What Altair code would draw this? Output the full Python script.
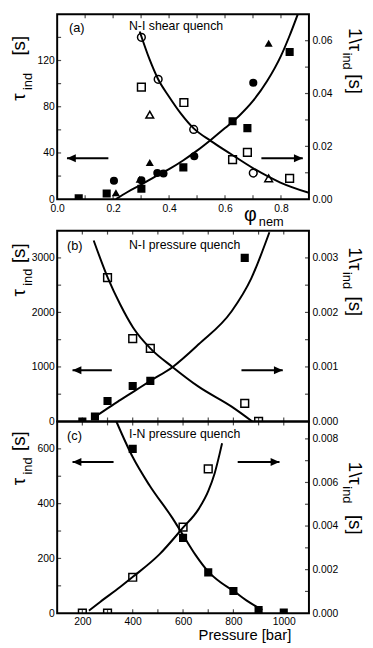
import altair as alt
import pandas as pd

FONT = "Liberation Sans"
W = 256
HA, HB, HC = 188, 194, 195

# ---------------- Panel (a): N-I shear quench (x = phi_nem) ----------------
a_fill_sq_x = [0.077, 0.177, 0.301, 0.451, 0.627, 0.680, 0.831]
a_fill_sq_y = [0.8, 4.9, 9.0, 27.5, 67.4, 61.5, 127.4]
a_fill_ci_x = [0.203, 0.301, 0.358, 0.380, 0.490, 0.701]
a_fill_ci_y = [15.9, 16.4, 22.7, 22.2, 37.2, 100.8]
a_fill_tr_x = [0.210, 0.295, 0.331, 0.756]
a_fill_tr_y = [5.5, 17.3, 31.8, 135.0]
a_open_sq_x = [0.301, 0.453, 0.627, 0.680, 0.831]
a_open_sq_y = [0.0424, 0.0366, 0.0150, 0.0177, 0.0079]
a_open_ci_x = [0.301, 0.361, 0.488, 0.701]
a_open_ci_y = [0.0613, 0.0454, 0.0264, 0.0099]
a_open_tr_x = [0.331, 0.756]
a_open_tr_y = [0.0320, 0.0079]
a_tau_fit_x = [0.21, 0.25, 0.30, 0.35, 0.40, 0.45, 0.50, 0.55, 0.60, 0.65, 0.70, 0.75, 0.80, 0.83, 0.86]
a_tau_fit_y = [0, 6, 12.5, 19.5, 26, 33.5, 42, 51.5, 61.5, 72, 85, 102, 124, 141, 160]
a_inv_fit_x = [0.295, 0.33, 0.361, 0.40, 0.443, 0.488, 0.55, 0.621, 0.701, 0.798, 0.90]
a_inv_fit_y = [0.0635, 0.053, 0.0454, 0.0388, 0.0323, 0.0268, 0.0220, 0.0171, 0.0117, 0.0063, 0.0024]
a_arrow_left = [0.035, 0.183]
a_arrow_right = [0.730, 0.878]
a_arrow_y = 35.5
a_x_labels = [0, 0.2, 0.4, 0.6, 0.8]
a_x_ticks = [0.1, 0.2, 0.3, 0.4, 0.5, 0.6, 0.7, 0.8]
a_l_labels = [0, 40, 80, 120]
a_l_ticks = [20, 40, 60, 80, 100, 120, 140]
a_r_labels = [0, 0.02, 0.04, 0.06]
a_r_ticks = [0.01, 0.02, 0.03, 0.04, 0.05, 0.06]

# ---------------- Panel (b): N-I pressure quench (x = pressure) ----------------
b_fill_x = [200, 250, 300, 400, 470, 845]
b_fill_y = [0, 90, 375, 650, 745, 3000]
b_open_x = [300, 400, 470, 845, 900]
b_open_y = [0.00264, 0.00152, 0.00134, 0.00033, 0.0]
b_tau_fit_x = [249, 272, 300, 350, 402, 470, 559, 663, 793, 871, 943]
b_tau_fit_y = [80, 152, 240, 390, 543, 745, 1000, 1419, 2022, 2625, 3471]
b_inv_fit_x = [245, 302, 350, 402, 470, 559, 663, 793, 875]
b_inv_fit_y = [0.00332, 0.002625, 0.00215, 0.00172, 0.00134, 0.000996, 0.000634, 0.000272, 0.0]
b_arrow_left = [161, 317]
b_arrow_right = [832, 996]
b_arrow_y = 940
b_l_labels = [0, 1000, 2000, 3000]
b_l_ticks = [500, 1000, 1500, 2000, 2500, 3000]
b_r_labels = [0, 0.001, 0.002, 0.003]
b_r_ticks = [0.0005, 0.001, 0.0015, 0.002, 0.0025, 0.003]

# ---------------- Panel (c): I-N pressure quench ----------------
c_fill_x = [400, 600, 700, 800, 900, 1000]
c_fill_y = [600, 275, 149, 81, 12, 2]
c_open_x = [200, 300, 400, 600, 700]
c_open_y = [0.0, 0.0, 0.00165, 0.00395, 0.00662]
c_tau_fit_x = [335, 400, 467, 558, 600, 650, 700, 750, 800, 850, 915]
c_tau_fit_y = [700, 570, 466, 347, 285, 212, 152, 112, 82, 48, 12]
c_inv_fit_x = [226, 272, 350, 402, 506, 598, 663, 700, 725, 745, 755]
c_inv_fit_y = [0.00012, 0.00053, 0.0012, 0.00168, 0.0027, 0.0039, 0.0048, 0.0056, 0.0064, 0.0073, 0.0078]
c_arrow_left = [161, 324]
c_arrow_right = [817, 983]
c_arrow_y = 552
c_l_labels = [0, 200, 400, 600]
c_l_ticks = [100, 200, 300, 400, 500, 600]
c_r_labels = [0, 0.002, 0.004, 0.006, 0.008]
c_r_ticks = [0.001, 0.002, 0.003, 0.004, 0.005, 0.006, 0.007, 0.008]

p_x_ticks = [200, 300, 400, 500, 600, 700, 800, 900, 1000]
p_x_labels = [200, 400, 600, 800, 1000]

ONE = pd.DataFrame({"k": [0]})
HEAD_L = "M0,0L2,-0.9L2,0.9Z"
HEAD_R = "M0,0L-2,-0.9L-2,0.9Z"
TL = 4  # inward tick length


def pts(xs, ys, shape):
    return pd.DataFrame({"x": xs, "y": ys, "shape": [shape] * len(xs)})


def lab_axis(orient, values, fmt, pad):
    return alt.Axis(orient=orient, values=values, format=fmt, ticks=False, domain=False,
                    grid=False, title=None, labelPadding=pad, labelFont=FONT,
                    labelFontSize=10.5, labelColor="black", labelFlush=False,
                    labelOverlap=False)


def txt(s, x, y, size, angle=0, align="left"):
    return alt.Chart(ONE).mark_text(text=s, fontSize=size, font=FONT, angle=angle,
                                    align=align, baseline="alphabetic",
                                    color="black").encode(x=alt.value(x), y=alt.value(y))


def left_title(y0, s_off):
    xb = -33
    return [txt("τ", xb, y0, 19, 270),
            txt("ind", xb + 7, y0 - 11, 13, 270),
            txt("[s]", xb, y0 - s_off, 19, 270)]


def right_title(y0, s_off):
    xb = W + 41
    return [txt("1\\τ", xb, y0, 19, 90),
            txt("ind", xb - 6, y0 + 25, 13, 90),
            txt("[s]", xb, y0 + s_off, 19, 90)]


def xticks_layer(vals, scale, ypix):
    return alt.Chart(pd.DataFrame({"x": vals})).mark_tick(
        color="black", thickness=1.2, size=TL).encode(
        x=alt.X("x:Q", scale=scale, axis=None), y=alt.value(ypix))


def yticks_layer(vals, scale, xpix):
    return alt.Chart(pd.DataFrame({"y": vals})).mark_tick(
        color="black", thickness=1.2, size=TL).encode(
        y=alt.Y("y:Q", scale=scale, axis=None), x=alt.value(xpix))


def panel(H, xdom, ldom, rdom, fill_df, open_df, tau_x, tau_y, inv_x, inv_y,
          arr_l, arr_r, arr_y, xlab, xfmt, xpad, xticks, llab, lticks, lfmt,
          rlab, rticks, rfmt, texts):
    xs = alt.Scale(domain=xdom, nice=False, zero=False)
    ysl = alt.Scale(domain=ldom, nice=False, zero=False)
    ysr = alt.Scale(domain=rdom, nice=False, zero=False)
    xlab_axis = lab_axis("bottom", xlab, xfmt, xpad) if xlab else None

    filled = alt.Chart(fill_df).mark_point(filled=True, color="black", opacity=1,
                                           size=68, clip=True).encode(
        x=alt.X("x:Q", scale=xs, axis=xlab_axis),
        y=alt.Y("y:Q", scale=ysl, axis=lab_axis("left", llab, lfmt, 3)),
        shape=alt.Shape("shape:N", scale=None))
    tau_line = alt.Chart(pd.DataFrame({"x": tau_x, "y": tau_y})).mark_line(
        color="black", strokeWidth=2, interpolate="monotone", clip=True).encode(
        x=alt.X("x:Q", scale=xs, axis=None),
        y=alt.Y("y:Q", scale=ysl, axis=None))
    arr_df = pd.DataFrame({"x": [arr_l[0], arr_r[0]], "x2": [arr_l[1], arr_r[1]],
                           "y": [arr_y, arr_y]})
    shafts = alt.Chart(arr_df).mark_rule(color="black", strokeWidth=2).encode(
        x=alt.X("x:Q", scale=xs, axis=None), x2="x2:Q",
        y=alt.Y("y:Q", scale=ysl, axis=None))
    head_l = alt.Chart(pd.DataFrame({"x": [arr_l[0]], "y": [arr_y]})).mark_point(
        shape=HEAD_L, filled=True, color="black", opacity=1, size=81).encode(
        x=alt.X("x:Q", scale=xs, axis=None), y=alt.Y("y:Q", scale=ysl, axis=None))
    head_r = alt.Chart(pd.DataFrame({"x": [arr_r[1]], "y": [arr_y]})).mark_point(
        shape=HEAD_R, filled=True, color="black", opacity=1, size=81).encode(
        x=alt.X("x:Q", scale=xs, axis=None), y=alt.Y("y:Q", scale=ysl, axis=None))
    tb = xticks_layer(xticks, xs, H - TL / 2)
    tt = xticks_layer(xticks, xs, TL / 2)
    tl = yticks_layer(lticks, ysl, TL / 2)
    left = alt.layer(filled, tau_line, shafts, head_l, head_r, tb, tt, tl).resolve_axis(
        x="independent", y="independent")

    opened = alt.Chart(open_df).mark_point(filled=False, color="black", opacity=1,
                                           size=62, strokeWidth=1.5, clip=True).encode(
        x=alt.X("x:Q", scale=xs, axis=None),
        y=alt.Y("y:Q", scale=ysr, axis=lab_axis("right", rlab, rfmt, 3)),
        shape=alt.Shape("shape:N", scale=None))
    inv_line = alt.Chart(pd.DataFrame({"x": inv_x, "y": inv_y})).mark_line(
        color="black", strokeWidth=2, interpolate="monotone", clip=True).encode(
        x=alt.X("x:Q", scale=xs, axis=None),
        y=alt.Y("y:Q", scale=ysr, axis=None))
    tr = yticks_layer(rticks, ysr, W - TL / 2)
    right = alt.layer(opened, inv_line, tr).resolve_axis(x="independent", y="independent")

    return alt.layer(left, right, *texts).resolve_scale(y="independent").resolve_axis(
        x="independent", y="independent").properties(width=W, height=H)


# ---- panel (a)
a_fill = pd.concat([pts(a_fill_sq_x, a_fill_sq_y, "square"),
                    pts(a_fill_ci_x, a_fill_ci_y, "circle"),
                    pts(a_fill_tr_x, a_fill_tr_y, "triangle-up")])
a_open = pd.concat([pts(a_open_sq_x, a_open_sq_y, "square"),
                    pts(a_open_ci_x, a_open_ci_y, "circle"),
                    pts(a_open_tr_x, a_open_tr_y, "triangle-up")])
a_texts = [txt("(a)", 12, 18, 13), txt("N-I shear quench", 73, 16, 12.5),
           txt("φ", 190, HA + 22, 20), txt("nem", 205, HA + 27, 13)] \
    + left_title(88, 46) + right_title(14, 47)
pa = panel(HA, [0, 0.9], [0, 160], [0, 0.07], a_fill, a_open,
           a_tau_fit_x, a_tau_fit_y, a_inv_fit_x, a_inv_fit_y,
           a_arrow_left, a_arrow_right, a_arrow_y,
           a_x_labels, ".1f", 5, a_x_ticks,
           a_l_labels, a_l_ticks, "d", a_r_labels, a_r_ticks, ".2f", a_texts)

# ---- panel (b)
b_texts = [txt("(b)", 10, 20, 13), txt("N-I pressure quench", 73, 18.5, 12.5)] \
    + left_title(67, 34) + right_title(17, 50)
pb = panel(HB, [100, 1100], [0, 3500], [0, 0.0035],
           pts(b_fill_x, b_fill_y, "square"), pts(b_open_x, b_open_y, "square"),
           b_tau_fit_x, b_tau_fit_y, b_inv_fit_x, b_inv_fit_y,
           b_arrow_left, b_arrow_right, b_arrow_y,
           None, "d", 3, p_x_ticks,
           b_l_labels, b_l_ticks, "d", b_r_labels, b_r_ticks, ".3f", b_texts)

# ---- panel (c)
c_texts = [txt("(c)", 10, 19, 13), txt("I-N pressure quench", 73, 17, 12.5),
           txt("Pressure [bar]", 238, HC + 27.5, 15, align="right")] \
    + left_title(65, 35) + right_title(41, 54)
pc = panel(HC, [100, 1100], [0, 700], [0, 0.0088],
           pts(c_fill_x, c_fill_y, "square"), pts(c_open_x, c_open_y, "square"),
           c_tau_fit_x, c_tau_fit_y, c_inv_fit_x, c_inv_fit_y,
           c_arrow_left, c_arrow_right, c_arrow_y,
           p_x_labels, "d", 3, p_x_ticks,
           c_l_labels, c_l_ticks, "d", c_r_labels, c_r_ticks, ".3f", c_texts)

chart = alt.vconcat(pa, alt.vconcat(pb, pc, spacing=0, bounds="flush"),
                    spacing=32, bounds="flush").properties(
    padding=0, background="white").configure_view(stroke="black", strokeWidth=2)

chart.save("out.html", embed_options={"renderer": "svg", "actions": False})
